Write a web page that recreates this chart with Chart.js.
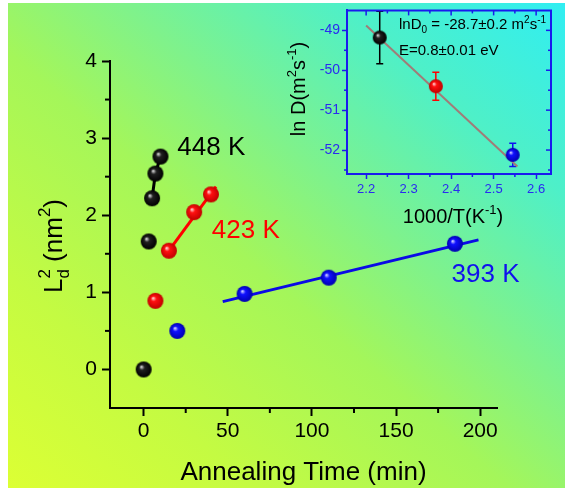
<!DOCTYPE html>
<html>
<head>
<meta charset="utf-8">
<script src="https://cdn.jsdelivr.net/npm/chart.js@4.4.1/dist/chart.umd.min.js"></script>
<style>
html, body { margin: 0; padding: 0; background: #fff; }
#wrap { position: relative; width: 565px; height: 488px; overflow: hidden; background: #fff; }
#bg {
    position: absolute; left: 8px; top: 3px; right: 0; bottom: 0;
    background: linear-gradient(to top right, #dcff34 0%, #c4fb42 22%, #a4f65a 45%, #80f28a 60%, #4ef0c8 80%, #30eef2 100%);
}
canvas { position: absolute; left: 0; top: 0; }
</style>
</head>
<body>
<div id="wrap">
    <div id="bg"></div>
    <canvas id="mainChart" width="565" height="488"></canvas>
    <canvas id="insetChart" width="565" height="488"></canvas>
</div>
<script>
const FONT = "'Liberation Sans', Arial, sans-serif";

// Main panel: L_d^2 (nm^2) vs annealing time (min)
const timeTicks = [0, 50, 100, 150, 200];
const ldTicks = [0, 1, 2, 3, 4];

const t448 = [0, 3, 5, 7, 10];
const ld448 = [0, 1.66, 2.22, 2.54, 2.76];
const t448Line = [5, 7, 10];
const ld448Line = [2.22, 2.54, 2.76];

const t423 = [7, 15, 30, 40];
const ld423 = [0.89, 1.54, 2.04, 2.27];
const t423Fit = [15, 43];
const ld423Fit = [1.54, 2.37];

const t393 = [20, 60, 110, 185];
const ld393 = [0.50, 0.98, 1.19, 1.63];
const t393Fit = [47, 199];
const ld393Fit = [0.88, 1.68];

// Inset: ln D vs 1000/T
const invTTicks = [2.2, 2.3, 2.4, 2.5, 2.6];
const lnDTicks = [-52, -51, -50, -49];
const invT = [2.232, 2.364, 2.545];
const lnD = [-49.18, -50.40, -52.12];
const lnDErr = [0.66, 0.35, 0.29];
const invTFit = [2.2, 2.556];
const lnDFit = [-48.88, -52.41];

const toXY = (xs, ys) => xs.map((x, i) => ({ x: x, y: ys[i] }));

// Shaded ball used as point marker
function makeBall(r, light, base, dark) {
    const c = document.createElement("canvas");
    c.width = c.height = 2 * r + 2;
    const g = c.getContext("2d");
    const cx = r + 1, cy = r + 1;
    const grad = g.createRadialGradient(cx - r * 0.3, cy - r * 0.35, r * 0.05, cx, cy, r);
    grad.addColorStop(0, light);
    grad.addColorStop(0.3, base);
    grad.addColorStop(1, dark);
    g.fillStyle = grad;
    g.beginPath();
    g.arc(cx, cy, r, 0, Math.PI * 2);
    g.fill();
    return c;
}

// Text with sub/superscripts; parts = [{t, s, dy, stack}]
function drawRich(ctx, parts, x, y, align, angle, color) {
    ctx.save();
    ctx.translate(x, y);
    if (angle) ctx.rotate(angle);
    ctx.fillStyle = color;
    ctx.textBaseline = "alphabetic";
    ctx.textAlign = "left";
    const widths = parts.map(p => { ctx.font = p.s + "px " + FONT; return ctx.measureText(p.t).width; });
    let cur = 0, maxEnd = 0;
    parts.forEach((p, i) => { maxEnd = Math.max(maxEnd, cur + widths[i]); if (!p.stack) cur = maxEnd; });
    const x0 = align === "center" ? -maxEnd / 2 : 0;
    cur = x0; maxEnd = x0;
    parts.forEach((p, i) => {
        ctx.font = p.s + "px " + FONT;
        ctx.fillText(p.t, cur, p.dy || 0);
        maxEnd = Math.max(maxEnd, cur + widths[i]);
        if (!p.stack) cur = maxEnd;
    });
    ctx.restore();
}

const ballK = makeBall(8, "#d8d8d8", "#202020", "#000000");
const ballR = makeBall(8, "#ffd0d0", "#ff1010", "#c00000");
const ballB = makeBall(8, "#d0d0ff", "#1010ff", "#0000b0");
const sballK = makeBall(7, "#d8d8d8", "#202020", "#000000");
const sballR = makeBall(7, "#ffd0d0", "#ff1010", "#c00000");
const sballB = makeBall(7, "#d0d0ff", "#1010ff", "#0000b0");

// Labels anchored in data units
const mainLabels = [
    { text: "448 K", x: 20, y: 2.78, color: "#000" },
    { text: "423 K", x: 40.5, y: 1.70, color: "#ff0000" },
    { text: "393 K", x: 183, y: 1.13, color: "#1010ee" }
];

const mainDecor = {
    id: "mainDecor",
    afterDraw(chart) {
        const ctx = chart.ctx;
        const xs = chart.scales.x, ys = chart.scales.y;
        const a = chart.chartArea;
        ctx.save();
        ctx.strokeStyle = "#000";
        ctx.lineWidth = 2;
        [25, 75, 125, 175].forEach(v => {
            const px = xs.getPixelForValue(v);
            ctx.beginPath(); ctx.moveTo(px, a.bottom); ctx.lineTo(px, a.bottom + 5); ctx.stroke();
        });
        [0.5, 1.5, 2.5, 3.5].forEach(v => {
            const py = ys.getPixelForValue(v);
            ctx.beginPath(); ctx.moveTo(a.left, py); ctx.lineTo(a.left - 5, py); ctx.stroke();
        });
        ctx.restore();

        mainLabels.forEach(l => {
            drawRich(ctx, [{ t: l.text, s: 26 }], xs.getPixelForValue(l.x), ys.getPixelForValue(l.y), "left", 0, l.color);
        });

        drawRich(ctx, [{ t: "Annealing Time (min)", s: 26 }], (a.left + a.right) / 2 + 0, 480, "center", 0, "#000");
        drawRich(ctx, [
            { t: "L", s: 26 }, { t: "d", s: 17, dy: 7, stack: true }, { t: "2", s: 17, dy: -12 },
            { t: " (nm", s: 26 }, { t: "2", s: 17, dy: -12 }, { t: ")", s: 26 }
        ], 62, 246, "center", -Math.PI / 2, "#000");
    }
};

new Chart(document.getElementById("mainChart"), {
    type: "scatter",
    data: {
        datasets: [
            { data: toXY(t448, ld448), pointStyle: ballK, order: 1 },
            { data: toXY(t423, ld423), pointStyle: ballR, order: 1 },
            { data: toXY(t393, ld393), pointStyle: ballB, order: 1 },
            { data: toXY(t448Line, ld448Line), showLine: true, borderColor: "#000", borderWidth: 3, pointRadius: 0, order: 2 },
            { data: toXY(t423Fit, ld423Fit), showLine: true, borderColor: "#ff0000", borderWidth: 3, pointRadius: 0, order: 2 },
            { data: toXY(t393Fit, ld393Fit), showLine: true, borderColor: "#0a0ae6", borderWidth: 3, pointRadius: 0, order: 2 }
        ]
    },
    options: {
        responsive: false,
        animation: false,
        layout: { padding: { top: 61, right: 68, bottom: 0, left: 0 } },
        plugins: { legend: { display: false }, tooltip: { enabled: false } },
        scales: {
            x: {
                type: "linear", min: -20, max: 210,
                afterBuildTicks: s => { s.ticks = timeTicks.map(v => ({ value: v })); },
                afterFit: s => { s.height = 80; },
                grid: { drawOnChartArea: false, drawTicks: true, tickLength: 8, tickWidth: 2, tickColor: "#000" },
                border: { display: true, color: "#000", width: 2 },
                ticks: { font: { family: FONT, size: 21 }, color: "#000", padding: 3, autoSkip: false, maxRotation: 0 }
            },
            y: {
                type: "linear", min: -0.5, max: 4,
                afterBuildTicks: s => { s.ticks = ldTicks.map(v => ({ value: v })); },
                afterFit: s => { s.width = 110; },
                grid: { drawOnChartArea: false, drawTicks: true, tickLength: 8, tickWidth: 2, tickColor: "#000" },
                border: { display: true, color: "#000", width: 2 },
                ticks: { font: { family: FONT, size: 21 }, color: "#000", padding: 5, autoSkip: false }
            }
        }
    },
    plugins: [mainDecor]
});

const INSET_BLUE = "#1a1aee";

const insetDecor = {
    id: "insetDecor",
    beforeDatasetsDraw(chart) {
        const ctx = chart.ctx;
        const xs = chart.scales.x, ys = chart.scales.y;
        const colors = ["#000", "#ff0000", "#1010ee"];
        ctx.save();
        ctx.lineWidth = 1.5;
        invT.forEach((v, i) => {
            const px = xs.getPixelForValue(v);
            const y1 = ys.getPixelForValue(lnD[i] + lnDErr[i]);
            const y2 = ys.getPixelForValue(lnD[i] - lnDErr[i]);
            ctx.strokeStyle = colors[i];
            ctx.beginPath();
            ctx.moveTo(px, y1); ctx.lineTo(px, y2);
            ctx.moveTo(px - 3.5, y1); ctx.lineTo(px + 3.5, y1);
            ctx.moveTo(px - 3.5, y2); ctx.lineTo(px + 3.5, y2);
            ctx.stroke();
        });
        ctx.restore();
    },
    afterDraw(chart) {
        const ctx = chart.ctx;
        const xs = chart.scales.x, ys = chart.scales.y;
        const a = chart.chartArea;
        ctx.save();
        ctx.strokeStyle = INSET_BLUE;
        ctx.lineWidth = 2;
        ctx.beginPath();
        ctx.moveTo(a.left, a.top); ctx.lineTo(a.right, a.top); ctx.lineTo(a.right, a.bottom);
        ctx.stroke();
        ctx.lineWidth = 1.5;
        // top/right ticks point inward, minor ticks on all sides
        for (let v = 2.2; v <= 2.601; v += 0.05) {
            const px = xs.getPixelForValue(v);
            const major = Math.abs(v * 10 - Math.round(v * 10)) < 0.01;
            const len = major ? 5 : 3;
            ctx.beginPath(); ctx.moveTo(px, a.top); ctx.lineTo(px, a.top + len); ctx.stroke();
            if (!major) { ctx.beginPath(); ctx.moveTo(px, a.bottom); ctx.lineTo(px, a.bottom + 3); ctx.stroke(); }
        }
        for (let v = -52.5; v <= -48.99; v += 0.5) {
            const py = ys.getPixelForValue(v);
            const major = Number.isInteger(v);
            const len = major ? 5 : 3;
            ctx.beginPath(); ctx.moveTo(a.right, py); ctx.lineTo(a.right - len, py); ctx.stroke();
            if (!major) { ctx.beginPath(); ctx.moveTo(a.left, py); ctx.lineTo(a.left - 3, py); ctx.stroke(); }
        }
        ctx.restore();

        drawRich(ctx, [
            { t: "lnD", s: 15 }, { t: "0", s: 10, dy: 4 }, { t: " = -28.7\u00b10.2 m", s: 15 },
            { t: "2", s: 10, dy: -6 }, { t: "s", s: 15 }, { t: "-1", s: 10, dy: -6 }
        ], a.left + 52, a.top + 19, "left", 0, "#000");
        drawRich(ctx, [{ t: "E=0.8\u00b10.01 eV", s: 15 }], a.left + 52, a.top + 45, "left", 0, "#000");

        drawRich(ctx, [{ t: "1000/T(K", s: 20 }, { t: "-1", s: 13, dy: -9 }, { t: ")", s: 20 }],
            (a.left + a.right) / 2 + 4, 223, "center", 0, "#000");
        drawRich(ctx, [
            { t: "ln D(m", s: 20 }, { t: "2", s: 13, dy: -9 }, { t: "s", s: 20 },
            { t: "-1", s: 13, dy: -9 }, { t: ")", s: 20 }
        ], 305, 89, "center", -Math.PI / 2, "#000");
    }
};

new Chart(document.getElementById("insetChart"), {
    type: "scatter",
    data: {
        datasets: [
            { data: toXY(invT, lnD), pointStyle: [sballK, sballR, sballB], order: 1 },
            { data: toXY(invTFit, lnDFit), showLine: true, borderColor: "#a07c78", borderWidth: 2, pointRadius: 0, order: 2 }
        ]
    },
    options: {
        responsive: false,
        animation: false,
        layout: { padding: { top: 10, right: 14, bottom: 0, left: 0 } },
        plugins: { legend: { display: false }, tooltip: { enabled: false } },
        scales: {
            x: {
                type: "linear", min: 2.155, max: 2.635,
                afterBuildTicks: s => { s.ticks = invTTicks.map(v => ({ value: v })); },
                afterFit: s => { s.height = 314; },
                grid: { drawOnChartArea: false, drawTicks: true, tickLength: 5, tickWidth: 1.5, tickColor: INSET_BLUE },
                border: { display: true, color: INSET_BLUE, width: 2 },
                ticks: { font: { family: FONT, size: 13 }, color: "#2a2af0", padding: 3, autoSkip: false, maxRotation: 0,
                    callback: v => v.toFixed(1) }
            },
            y: {
                type: "linear", min: -52.6, max: -48.5,
                afterBuildTicks: s => { s.ticks = lnDTicks.map(v => ({ value: v })); },
                afterFit: s => { s.width = 347; },
                grid: { drawOnChartArea: false, drawTicks: true, tickLength: 5, tickWidth: 1.5, tickColor: INSET_BLUE },
                border: { display: true, color: INSET_BLUE, width: 2 },
                ticks: { font: { family: FONT, size: 14 }, color: "#2a2af0", padding: 2, autoSkip: false,
                    callback: v => String(v) }
            }
        }
    },
    plugins: [insetDecor]
});
</script>
</body>
</html>
